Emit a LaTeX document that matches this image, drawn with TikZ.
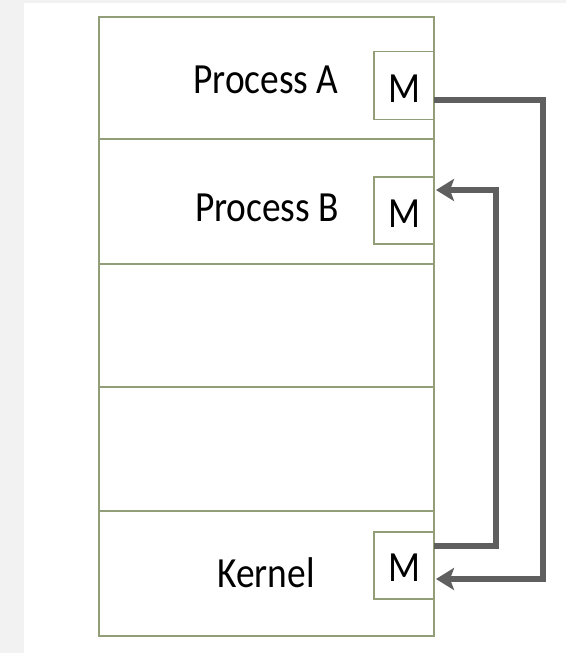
\documentclass[tikz,border=0pt]{standalone}
\usepackage{fontspec}
\usepackage{graphicx}
\setmainfont{Carlito}
\usetikzlibrary{arrows.meta,calc}
\definecolor{bordercol}{RGB}{145,158,120}
\definecolor{arrowcol}{RGB}{95,95,95}
\definecolor{bgcol}{RGB}{242,242,242}
\newcommand{\lbl}[1]{\scalebox{0.87}[1]{\fontsize{43}{43}\selectfont #1}}
\begin{document}
\begin{tikzpicture}[x=1pt,y=-1pt,
  rowbox/.style={draw=bordercol,line width=1.6pt,fill=white,minimum width=335pt,inner sep=0pt,outer sep=0pt},
  mbox/.style={draw=bordercol,line width=1.3pt,fill=white,minimum width=60pt,minimum height=68pt,inner sep=0pt,outer sep=0pt},
  txt/.style={inner sep=0pt,anchor=base},
  flow/.style={draw=arrowcol,line width=6pt,line join=miter,-{Stealth[length=18pt,width=22pt,inset=4pt]}}]
\useasboundingbox (0,0) rectangle (566,653);
\fill[white] (0,0) rectangle (566,653);
\fill[bgcol] (0,0) rectangle (24,653);
\fill[bgcol] (0,0) rectangle (566,2.5);
% rows
\node[rowbox,minimum height=122pt] (rowA) at (266.5,78) {};
\node[rowbox,minimum height=125pt] (rowB) at (266.5,201.5) {};
\node[rowbox,minimum height=123pt] (rowC) at (266.5,325.5) {};
\node[rowbox,minimum height=124pt] (rowD) at (266.5,449) {};
\node[rowbox,minimum height=125pt] (rowK) at (266.5,573.5) {};
% M boxes
\node[mbox] (mA) at (404,85.5) {};
\node[mbox,minimum height=67pt] (mB) at (404,210.5) {};
\node[mbox,minimum height=67pt] (mK) at (404,565.5) {};
% labels
\node[txt] (tA) at (266,93) {\lbl{Process A}};
\node[txt] (tB) at (267,221) {\lbl{Process B}};
\node[txt] (tK) at (266,587) {\lbl{Kernel}};
\node[txt] (tmA) at (404,102) {\lbl{M}};
\node[txt] (tmB) at (404,227) {\lbl{M}};
\node[txt] (tmK) at (404,581) {\lbl{M}};
% arrows
\coordinate (a1s) at ($(mA.east)+(0,14.5)$);
\coordinate (a1e) at ($(mK.east)+(2,13.5)$);
\coordinate (a2s) at ($(mK.east)+(0,-19.5)$);
\coordinate (a2e) at ($(mB.east)+(2,-20.5)$);
\draw[flow] (a1s) -- (a1s -| 543,0) -- (a1e -| 543,0) -- (a1e);
\draw[flow] (a2s) -- (a2s -| 496,0) -- (a2e -| 496,0) -- (a2e);
\end{tikzpicture}
\end{document}
